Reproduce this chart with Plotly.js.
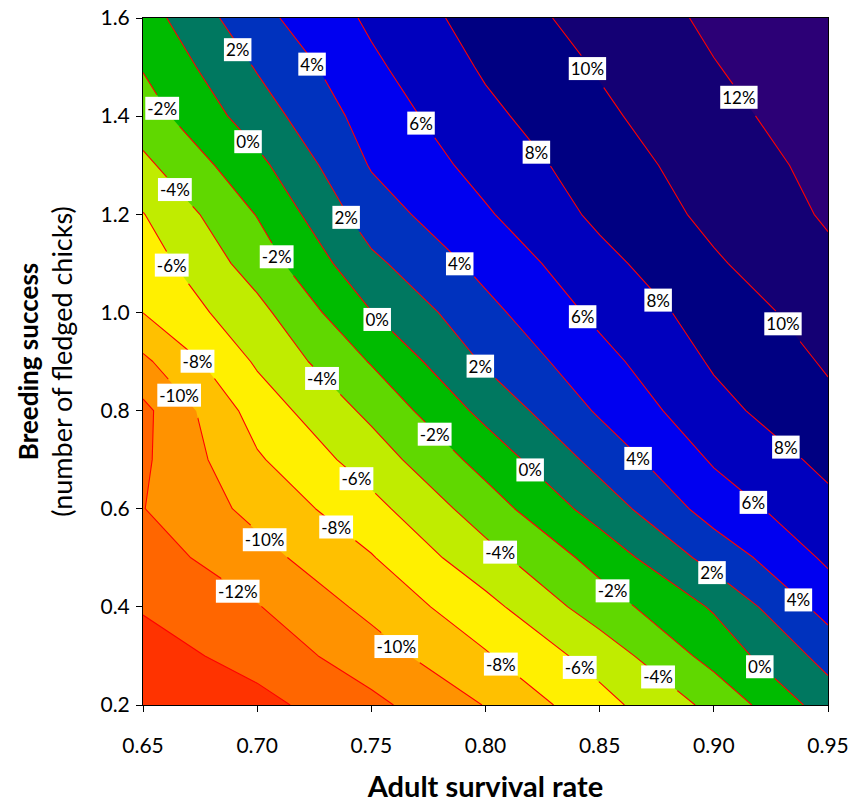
<!DOCTYPE html>
<html><head><meta charset="utf-8">
<script src="https://cdn.plot.ly/plotly-3.0.1.min.js"></script>
<style>html,body{margin:0;padding:0;background:#fff}#chart{width:850px;height:803px}</style>
</head><body><div id="chart"></div>
<script>
// Adult survival rate (x) and breeding success (y)
const survival = [0.65, 0.70, 0.75, 0.80, 0.85, 0.90, 0.95];
const breeding = [0.2, 0.3, 0.4, 0.5, 0.6, 0.7, 0.8, 0.9, 1.0, 1.1, 1.2, 1.3, 1.4, 1.5, 1.6];
// population growth rate (%), one row per breeding value
const growthPct = [
  [-15.9, -14.61, -12.5, -9.92, -6.70, -3.47, 0.95],
  [-14.9, -13.24, -10.92, -8.20, -5.18, -1.29, 2.7],
  [-13.82, -12.11, -9.48, -6.63, -2.98, 0.22, 4.77],
  [-12.95, -10.68, -8.14, -4.71, -1.28, 2.74, 6.35],
  [-12.05, -9.43, -6.63, -2.98, 0.87, 4.87, 7.47],
  [-12.33, -8.24, -5.03, -1.25, 2.68, 6.23, 8.5],
  [-12.5, -7.12, -3.52, 0.58, 4.26, 7.40, 9.54],
  [-10.4, -5.73, -1.86, 2.25, 5.36, 8.23, 10.21],
  [-7.98, -4.59, -0.04, 3.44, 6.47, 8.88, 10.9],
  [-7.06, -3.09, 1.56, 4.62, 7.42, 9.77, 11.62],
  [-6.07, -1.91, 3.04, 5.78, 8.42, 10.48, 12.21],
  [-4.45, -0.53, 4.15, 6.70, 9.00, 10.94, 12.54],
  [-2.95, 1.02, 4.87, 7.55, 9.62, 11.45, 12.95],
  [-1.88, 2.15, 5.63, 8.25, 10.16, 11.92, 13.25],
  [-0.9, 3.42, 6.34, 8.89, 10.78, 12.33, 13.5]
];
const xTicks = [0.65, 0.70, 0.75, 0.80, 0.85, 0.90, 0.95];
const yTicks = [0.2, 0.4, 0.6, 0.8, 1.0, 1.2, 1.4, 1.6];
// band midpoints (%) and their colours, from < -14% up to > 12%
const bandMid = [-15, -13, -11, -9, -7, -5, -3, -1, 1, 3, 5, 7, 9, 11, 13];
const bandColors = ['#FF3300','#FF6600','#FF9200','#FFC000','#FFF000','#C0EC00','#60D800',
  '#00BB00','#007860','#0032BE','#0000F0','#0000BE','#000082','#140074','#2C0076'];

const FONT = 'Lato, "Open Sans", sans-serif';
// contour levels every 2 %; the level range is kept wide so Plotly places
// several labels along each drawn line (only levels inside the data get lines)
const LV = {start: -0.80, end: 0.76, size: 0.02};
const nc = Math.round((LV.end - LV.start) / LV.size) + 1;
const fOf = v => ((v - LV.start) / LV.size + 0.5) / nc;
const colorscale = [[0, bandColors[0]]];
bandMid.forEach((m, i) => colorscale.push([fOf(m / 100), bandColors[i]]));
colorscale.push([1, bandColors[bandColors.length - 1]]);

const trace = {
  type: 'contour',
  x: survival, y: breeding,
  z: growthPct.map(r => r.map(v => v / 100)),
  autocontour: false,
  contours: {start: LV.start, end: LV.end, size: LV.size, coloring: 'fill',
    showlabels: true, labelformat: '.0%',
    labelfont: {family: FONT, size: 17, color: '#000'}},
  line: {color: '#FF0000', width: 1.1, smoothing: 0},
  colorscale: colorscale, showscale: false, hoverinfo: 'skip'
};

const layout = {
  width: 850, height: 803,
  margin: {l: 143, r: 22, t: 18, b: 98},
  paper_bgcolor: '#fff', plot_bgcolor: '#fff',
  font: {family: FONT, color: '#000'},
  xaxis: {range: [0.65, 0.95], tickvals: xTicks, tickformat: '.2f',
    ticks: 'outside', ticklen: 6, tickcolor: '#000', showline: true, linecolor: '#000', mirror: true,
    showgrid: false, zeroline: false, tickfont: {size: 21, family: FONT}, ticklabelstandoff: 16,
    title: {text: '<b>Adult survival rate</b>', font: {size: 29, family: FONT}, standoff: 23}},
  yaxis: {range: [0.2, 1.6], tickvals: yTicks, tickformat: '.1f',
    ticks: 'outside', ticklen: 6, tickcolor: '#000', showline: true, linecolor: '#000', mirror: true,
    showgrid: false, zeroline: false, tickfont: {size: 21, family: FONT}, ticklabelstandoff: 2,
    title: {text: '<b>Breeding success</b><br><span style="font-size:27px">(number of fledged chicks)</span>',
      font: {size: 26, family: FONT}, standoff: 20}}
};

Plotly.newPlot('chart', [trace], layout, {staticPlot: true}).then(gd => {
  const ns = 'http://www.w3.org/2000/svg';
  gd.querySelectorAll('.contourlabels text').forEach(t => {
    t.textContent = t.textContent.replace('\u2212', '-');
    t.removeAttribute('transform');
    const b = t.getBBox();
    const r = document.createElementNS(ns, 'rect');
    r.setAttribute('x', b.x - 2);
    r.setAttribute('y', b.y - 1);
    r.setAttribute('width', b.width + 4);
    r.setAttribute('height', b.height + 2);
    r.setAttribute('fill', '#fff');
    t.parentNode.insertBefore(r, t);
  });
});
</script>
</body></html>
